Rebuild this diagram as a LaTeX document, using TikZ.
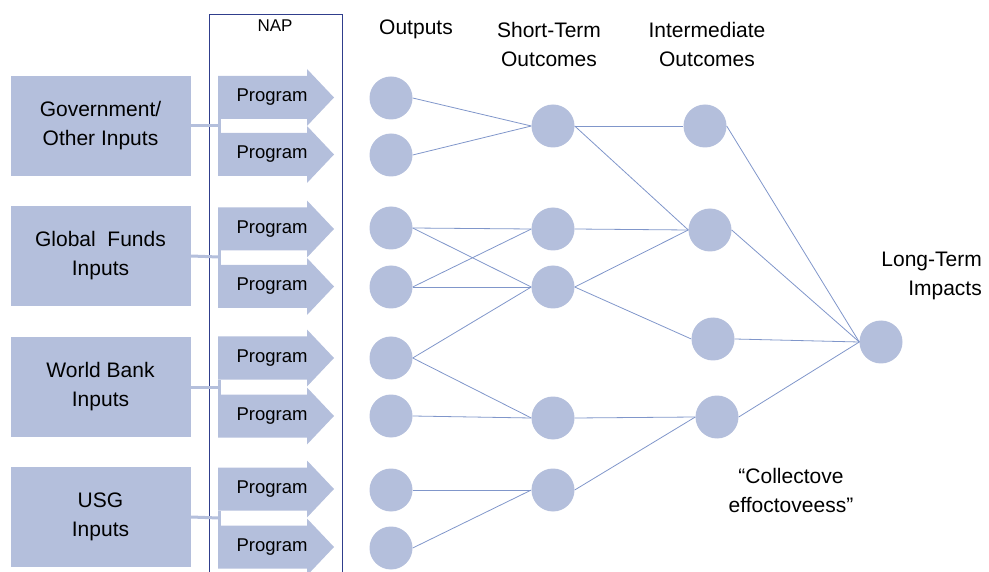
\documentclass[tikz,border=0pt]{standalone}
\usepackage{fontspec}
\setmainfont{Liberation Sans}
\definecolor{boxfill}{RGB}{180,191,220}
\definecolor{linkblue}{RGB}{128,150,202}
\definecolor{napblue}{RGB}{48,62,140}
\begin{document}
\begin{tikzpicture}[x=1pt,y=-1pt,
  inputbox/.style={rectangle,fill=boxfill,minimum width=180pt,minimum height=100pt,
    align=center,font=\fontsize{21}{29}\selectfont,inner sep=0pt},
  progtext/.style={font=\fontsize{18.5}{22}\selectfont,inner sep=0pt},
  feed/.style={draw=boxfill,line width=3pt},
  dot/.style={circle,fill=boxfill,minimum size=43pt,inner sep=0pt},
  link/.style={draw=linkblue,line width=0.8pt},
  heading/.style={align=center,font=\fontsize{21}{29}\selectfont,inner sep=0pt}]
\useasboundingbox (0,0) rectangle (989,572);

% NAP frame (runs off the bottom edge)
\draw[napblue,line width=0.9pt] (209,580) -- (209,14) -- (342,14) -- (342,580);
\node[font=\fontsize{17}{20}\selectfont,inner sep=0pt] (nap) at (275,26) {NAP};

% input boxes
\node[inputbox] (in1) at (100.5,126) {Government/\\Other Inputs};
\node[inputbox] (in2) at (100.5,256) {Global\ \ Funds\\Inputs};
\node[inputbox] (in3) at (100.5,387) {World Bank\\Inputs};
\node[inputbox] (in4) at (100.5,517) {USG\\Inputs};

% program arrows: body 218..307, head to 334
\foreach \n/\y in {1/97.5,2/154.5,3/229,4/286.5,5/358,6/416,7/489,8/547}{
  \fill[boxfill] (218,\y-21.5) -- (307,\y-21.5) -- (307,\y-28.5) -- (334,\y)
     -- (307,\y+28.5) -- (307,\y+21.5) -- (218,\y+21.5) -- cycle;
  \node[progtext] (p\n) at (272,\y) {Program};
}

% feeds from inputs into program pairs
\foreach \i/\c/\a/\b in {1/126/119/133,2/257/250.5/265,3/387/379.5/394.5,4/518/510.5/525.5}{
  \coordinate (j\i) at (219,\c);
  \coordinate (ja\i) at (219,\a);
  \coordinate (jb\i) at (219,\b);
  \draw[feed] (in\i.east) -- (j\i);
  \draw[feed] (ja\i) -- (jb\i);
}

% column headings
\node[heading] (hout) at (416,29) {Outputs};
\node[heading] (hst) at (549,44) {Short-Term\\Outcomes};
\node[heading] (hio) at (707,44) {Intermediate\\Outcomes};
\node[heading,align=right,anchor=east] (hlt) at (982,276) {Long-Term\\Impacts};
\node[heading] (note) at (791,490) {“Collectove\\effoctoveess”};

% outputs
\foreach \n/\y in {1/98,2/155,3/228,4/287,5/358,6/416,7/490,8/548}
  \node[dot] (o\n) at (391,\y) {};
% short-term outcomes
\node[dot] (s1) at (553,126) {};
\node[dot] (s2) at (553,229) {};
\node[dot] (s3) at (553,287) {};
\node[dot] (s4) at (553,418) {};
\node[dot] (s5) at (553,490) {};
% intermediate outcomes
\node[dot] (m1) at (705,126) {};
\node[dot] (m2) at (710,230) {};
\node[dot] (m3) at (713,339) {};
\node[dot] (m4) at (717,417) {};
% long-term impact
\node[dot] (lt) at (881,342) {};

% links
\foreach \a/\b in {o1/s1,o2/s1,o3/s2,o3/s3,o4/s2,o4/s3,o5/s3,o5/s4,o6/s4,o7/s5,o8/s5,
                   s1/m1,s1/m2,s2/m2,s3/m2,s3/m3,s4/m4,s5/m4,
                   m1/lt,m2/lt,m3/lt,m4/lt}
  \draw[link] (\a.east) -- (\b.west);
\end{tikzpicture}
\end{document}
